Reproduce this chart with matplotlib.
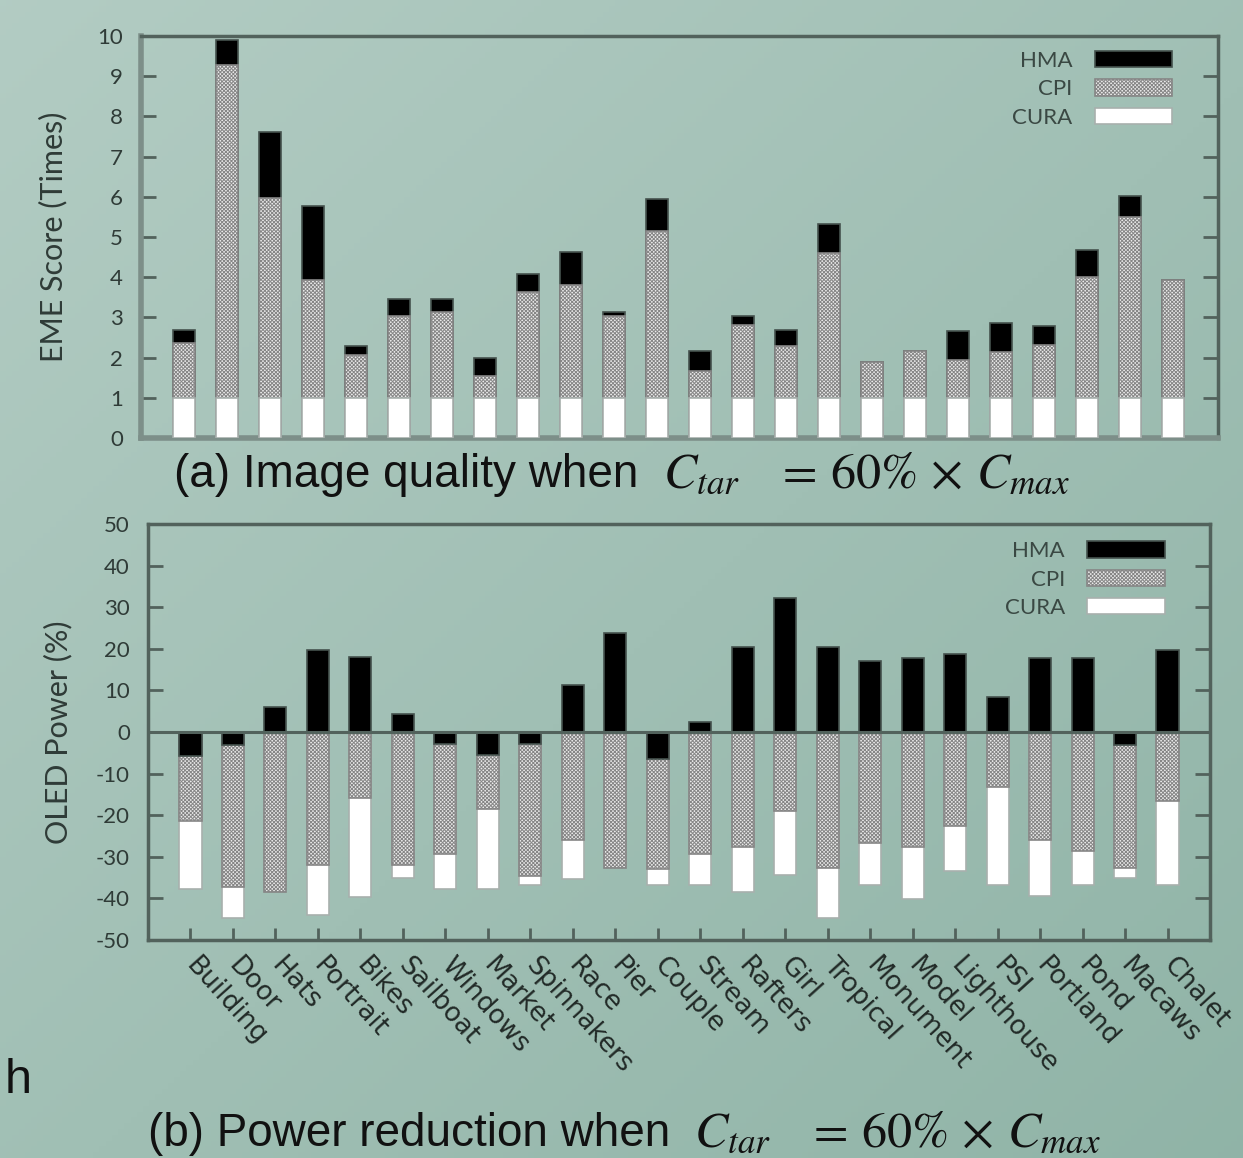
import numpy as np
import matplotlib.pyplot as plt

plt.rcParams['font.family'] = ['Lato', 'DejaVu Sans']
plt.rcParams['mathtext.fontset'] = 'stix'
plt.rcParams['hatch.linewidth'] = 0.7
plt.rcParams['axes.unicode_minus'] = False

images = ["Building", "Door", "Hats", "Portrait", "Bikes", "Sailboat", "Windows",
          "Market", "Spinnakers", "Race", "Pier", "Couple", "Stream", "Rafters",
          "Girl", "Tropical", "Monument", "Model", "Lighthouse", "PSI", "Portland",
          "Pond", "Macaws", "Chalet"]

# (a) EME score (cumulative heights)
eme_cura = [1] * 24
eme_cpi = [2.36, 9.28, 5.96, 3.93, 2.07, 3.04, 3.14, 1.53, 3.64, 3.81, 3.04, 5.15,
           1.66, 2.80, 2.28, 4.59, 1.89, 2.17, 1.95, 2.13, 2.32, 4.01, 5.50, 3.93]
eme_hma = [2.69, 9.89, 7.61, 5.77, 2.28, 3.47, 3.47, 1.99, 4.09, 4.63, 3.14, 5.94,
           2.17, 3.04, 2.69, 5.32, 1.89, 2.17, 2.67, 2.87, 2.79, 4.68, 6.02, 3.93]

# (b) OLED power (%)
pow_hma = [-5.8, -3.1, 6.1, 19.6, 18.0, 4.4, -2.9, -5.6, -2.9, 11.4, 23.9, -6.6,
           2.5, 20.4, 32.2, 20.4, 17.0, 17.8, 18.8, 8.5, 17.8, 17.8, -3.1, 19.6]
pow_cpi = [-21.5, -37.2, -38.4, -32.0, -15.8, -32.0, -29.4, -18.5, -34.6, -26.0, -32.8, -33.0,
           -29.4, -27.7, -19.0, -32.8, -26.8, -27.7, -22.5, -13.2, -26.0, -28.5, -32.8, -16.7]
pow_cura = [-37.8, -44.7, -37.0, -43.9, -39.7, -35.2, -37.8, -37.8, -36.8, -35.4, -32.0, -36.8,
            -36.8, -38.4, -34.4, -44.7, -36.8, -40.2, -33.4, -36.8, -39.4, -36.8, -35.2, -36.8]

x = np.arange(len(images))
W = 0.52
SPINE = '#52625c'
TXT = '#2f3b37'
cpi_style = dict(color='#ececec', edgecolor='#868686', hatch='x' * 9, linewidth=1.2)
hma_style = dict(color='black', edgecolor='#45524e', linewidth=1.2)
cura_style = dict(color='white', edgecolor='#a8b0ad', linewidth=1.2)
leg_kw = dict(loc='upper right', frameon=False, markerfirst=False, fontsize=16,
              labelcolor='#3a4843', handlelength=3.5, handleheight=0.75,
              handletextpad=1.0, labelspacing=0.38, borderaxespad=0)

fig = plt.figure(figsize=(12.43, 11.58), dpi=100)

# background gradient
bg = fig.add_axes([0, 0, 1, 1], zorder=-10)
xx, yy = np.meshgrid(np.linspace(0, 1, 200), np.linspace(0, 1, 200))
t = 0.5 * (xx + yy)
c0 = np.array([0.70, 0.80, 0.765])
c1 = np.array([0.565, 0.705, 0.655])
bg.imshow(c0 + (c1 - c0) * t[..., None], extent=[0, 1, 0, 1], aspect='auto')
bg.axis('off')

# ---- (a) ----
ax1 = fig.add_axes([141 / 1243, 1 - 438 / 1158, 1077 / 1243, 402 / 1158])
ax1.set_facecolor('none')
b_hma = ax1.bar(x, eme_hma, W, zorder=2, **hma_style)
b_cpi = ax1.bar(x, eme_cpi, W, zorder=3, **cpi_style)
b_cura = ax1.bar(x, eme_cura, W, zorder=4, **cura_style)
ax1.set_xlim(-1.0, 24.05)
ax1.set_ylim(0, 10)
ax1.set_yticks(range(0, 11))
ax1.set_xticks([])
ax1.tick_params(axis='y', direction='in', length=11, width=2, left=True, right=True,
                color=SPINE, labelsize=16, labelcolor=TXT, pad=13)
ax1.set_ylabel("EME Score (Times)", fontsize=22, color=TXT)
ax1.yaxis.set_label_coords(-0.068, 0.5)
for side in ['left', 'bottom']:
    ax1.spines[side].set_color('#7d8f89')
    ax1.spines[side].set_linewidth(4)
for side in ['top', 'right']:
    ax1.spines[side].set_color(SPINE)
    ax1.spines[side].set_linewidth(2.5)
ax1.legend([b_hma, b_cpi, b_cura], ["HMA", "CPI", "CURA"],
           bbox_to_anchor=(0.966, 0.985), **leg_kw)

# ---- (b) ----
ax2 = fig.add_axes([148 / 1243, 1 - 940 / 1158, 1062 / 1243, 416 / 1158])
ax2.set_facecolor('none')
c_cura = ax2.bar(x, pow_cura, W, zorder=2, **cura_style)
c_cpi = ax2.bar(x, pow_cpi, W, zorder=3, **cpi_style)
c_hma = ax2.bar(x, pow_hma, W, zorder=4, **hma_style)
ax2.axhline(0, color=SPINE, lw=2.2, zorder=5)
ax2.set_xlim(-1.0, 24.0)
ax2.set_ylim(-50, 50)
ax2.set_yticks(range(-50, 51, 10))
ax2.set_xticks(x)
ax2.set_xticklabels(images, rotation=-48, ha='left', va='center',
                    rotation_mode='anchor', fontsize=19, color='#222a27',
                    family=['DejaVu Sans'])
ax2.tick_params(axis='y', direction='in', length=11, width=2, left=True, right=True,
                color=SPINE, labelsize=16, labelcolor=TXT, pad=13)
ax2.tick_params(axis='x', direction='in', length=9, width=2, color=SPINE, pad=15)
ax2.set_ylabel("OLED Power (%)", fontsize=22, color=TXT)
ax2.yaxis.set_label_coords(-0.071, 0.5)
for side in ax2.spines.values():
    side.set_color(SPINE)
    side.set_linewidth(2.5)
ax2.legend([c_hma, c_cpi, c_cura], ["HMA", "CPI", "CURA"],
           bbox_to_anchor=(0.966, 0.98), **leg_kw)

# captions: sans text followed by the math part
math = r"$C_{tar}\quad=\,60\%\,\times\,C_{max}$"
cap_kw = dict(va='baseline', color='#111111')
fig.text(174 / 1243, 1 - 487 / 1158, "(a) Image quality when", fontsize=33,
         family='Liberation Sans', **cap_kw)
fig.text(663 / 1243, 1 - 487 / 1158, math, fontsize=36, **cap_kw)
fig.text(148 / 1243, 1 - 1146 / 1158, "(b) Power reduction when", fontsize=33,
         family='Liberation Sans', **cap_kw)
fig.text(694 / 1243, 1 - 1146 / 1158, math, fontsize=36, **cap_kw)
fig.text(5 / 1243, 1 - 1093 / 1158, "h", fontsize=35, family='Liberation Sans', **cap_kw)

fig.savefig("out.png", dpi=100)
